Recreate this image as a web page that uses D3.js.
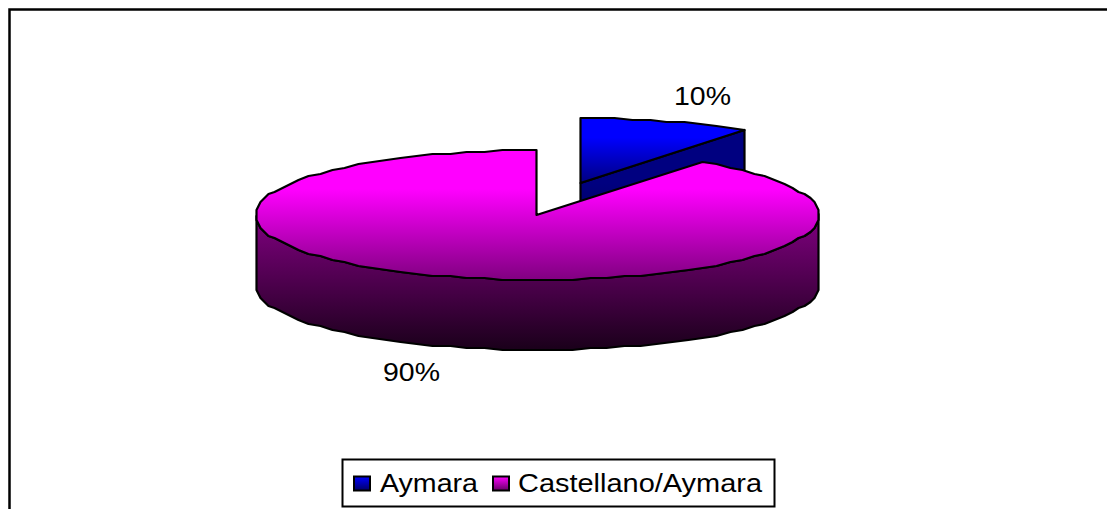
<!DOCTYPE html>
<html><head><meta charset="utf-8">
<script src="https://cdn.jsdelivr.net/npm/d3@7/dist/d3.min.js"></script>
<style>html,body{margin:0;padding:0;background:#fff}svg{display:block}</style>
</head><body>
<svg id="c" width="1107" height="509"></svg>
<script>
const categories = ["Aymara", "Castellano/Aymara"];
const values = [10, 90];
const labels = ["10%", "90%"];
const topColors = ["#0000ff", "#ff00ff"];

const W = 1107, H = 509;
const cx = 537.5, cy = 215, rx = 281.5, ry = 65, depth = 70;
const explodeX = 43, explodeY = -32;
const svg = d3.select("#c");
const defs = svg.append("defs");

const x = d3.scaleLinear().domain([-1, 1]).range([cx - rx, cx + rx]);
const y = d3.scaleLinear().domain([-1, 1]).range([cy - ry, cy + ry]);

function grad(id, c0, c1, stopA, y0, y1) {
  const g = defs.append("linearGradient").attr("id", id)
    .attr("gradientUnits", "userSpaceOnUse")
    .attr("x1", 0).attr("x2", 0).attr("y1", y0).attr("y2", y1);
  g.append("stop").attr("offset", 0).attr("stop-color", c0);
  g.append("stop").attr("offset", stopA).attr("stop-color", c0);
  g.append("stop").attr("offset", 1).attr("stop-color", c1);
}
const shade = (c, k) => { const r = d3.rgb(c); return d3.rgb(r.r * k, r.g * k, r.b * k).formatHex(); };

// chart frame: only its top and left edges fall inside the picture
svg.append("path").attr("d", d3.line()([[9.5, H], [9.5, 9.5], [W, 9.5]]))
  .attr("fill", "none").attr("stroke", "#000").attr("stroke-width", 2.5);

const pie = d3.pie().sort(null)(values);
const STEP = Math.PI / 50;
// outline is a fine polygon snapped to a 2px grid, as in the original raster
const snapX = v => Math.floor(v / 2) * 2 + .5;
const snapY = v => Math.round(v / 2) * 2;
const pt = (a, dx, dy) => [snapX(x(Math.sin(a)) + dx), snapY(y(-Math.cos(a)) + dy)];
const line = d3.line();
function rim(a0, a1, dx, dy) {
  const n = Math.max(1, Math.ceil((a1 - a0) / STEP));
  return d3.range(n + 1).map(i => pt(a0 + (a1 - a0) * i / n, dx, dy));
}

function drawSlice(i, dx, dy) {
  const s = pie[i], id = "s" + i;
  const apex = [snapX(x(0) + dx), y(0) + dy];
  const r = rim(s.startAngle, s.endAngle, dx, dy);
  const face = [apex].concat(r);
  const top = d3.min(face, p => p[1]), bot = d3.max(face, p => p[1]);
  grad(id + "t", topColors[i], shade(topColors[i], .5), .3, top, bot);
  grad(id + "d", shade(topColors[i], .5), shade(topColors[i], .1), 0, cy + dy, cy + dy + ry + depth);
  const g = svg.append("g").attr("stroke", "#000").attr("stroke-width", 2.2).attr("stroke-linejoin", "round");
  const fill = "url(#" + id + "d)";
  // closing cut face, only seen when it turns toward the viewer
  if (s.endAngle < Math.PI) {
    const p = pt(s.endAngle, dx, dy);
    g.append("path").attr("fill", fill)
      .attr("d", line([apex, p, [p[0], p[1] + depth], [apex[0], apex[1] + depth]]) + "Z");
  }
  // outer wall on the visible front half
  const f0 = Math.max(s.startAngle, Math.PI / 2), f1 = Math.min(s.endAngle, Math.PI * 1.5);
  if (f1 > f0) {
    const w = rim(f0, f1, dx, dy);
    g.append("path").attr("fill", fill)
      .attr("d", line(w.concat(w.slice().reverse().map(p => [p[0], p[1] + depth]))) + "Z");
  }
  g.append("path").attr("fill", "url(#" + id + "t)").attr("d", line(face) + "Z");
}
drawSlice(0, explodeX, explodeY);
drawSlice(1, 0, 0);

const font = "'Liberation Sans', Arial, sans-serif";
const labelPos = [[702.5, 105], [411.5, 381]];
svg.selectAll("text.lab").data(labels).join("text").attr("class", "lab")
  .attr("x", (d, i) => labelPos[i][0] - 28.5).attr("y", (d, i) => labelPos[i][1])
  .attr("font-family", font).attr("font-size", 26.5).attr("fill", "#000")
  .attr("textLength", 57).attr("lengthAdjust", "spacingAndGlyphs").text(d => d);

// legend
const lg = svg.append("g");
lg.append("rect").attr("x", 342.5).attr("y", 459.5).attr("width", 432).attr("height", 47)
  .attr("fill", "#fff").attr("stroke", "#000").attr("stroke-width", 2);
const legendX = [354, 493], textX = [380, 518], textW = [98, 244];
categories.forEach((c, i) => {
  const id = "l" + i;
  const g = defs.append("linearGradient").attr("id", id).attr("x1", 0).attr("x2", 0).attr("y1", 0).attr("y2", 1);
  g.append("stop").attr("offset", 0).attr("stop-color", topColors[i]);
  g.append("stop").attr("offset", 1).attr("stop-color", shade(topColors[i], .4));
  lg.append("rect").attr("x", legendX[i]).attr("y", 476.5).attr("width", 16).attr("height", 14)
    .attr("fill", "url(#" + id + ")").attr("stroke", "#000").attr("stroke-width", 2);
  lg.append("text").attr("x", textX[i]).attr("y", 491.5).attr("font-family", font).attr("font-size", 26.5)
    .attr("fill", "#000").attr("textLength", textW[i]).attr("lengthAdjust", "spacingAndGlyphs").text(c);
});
</script>
</body></html>
